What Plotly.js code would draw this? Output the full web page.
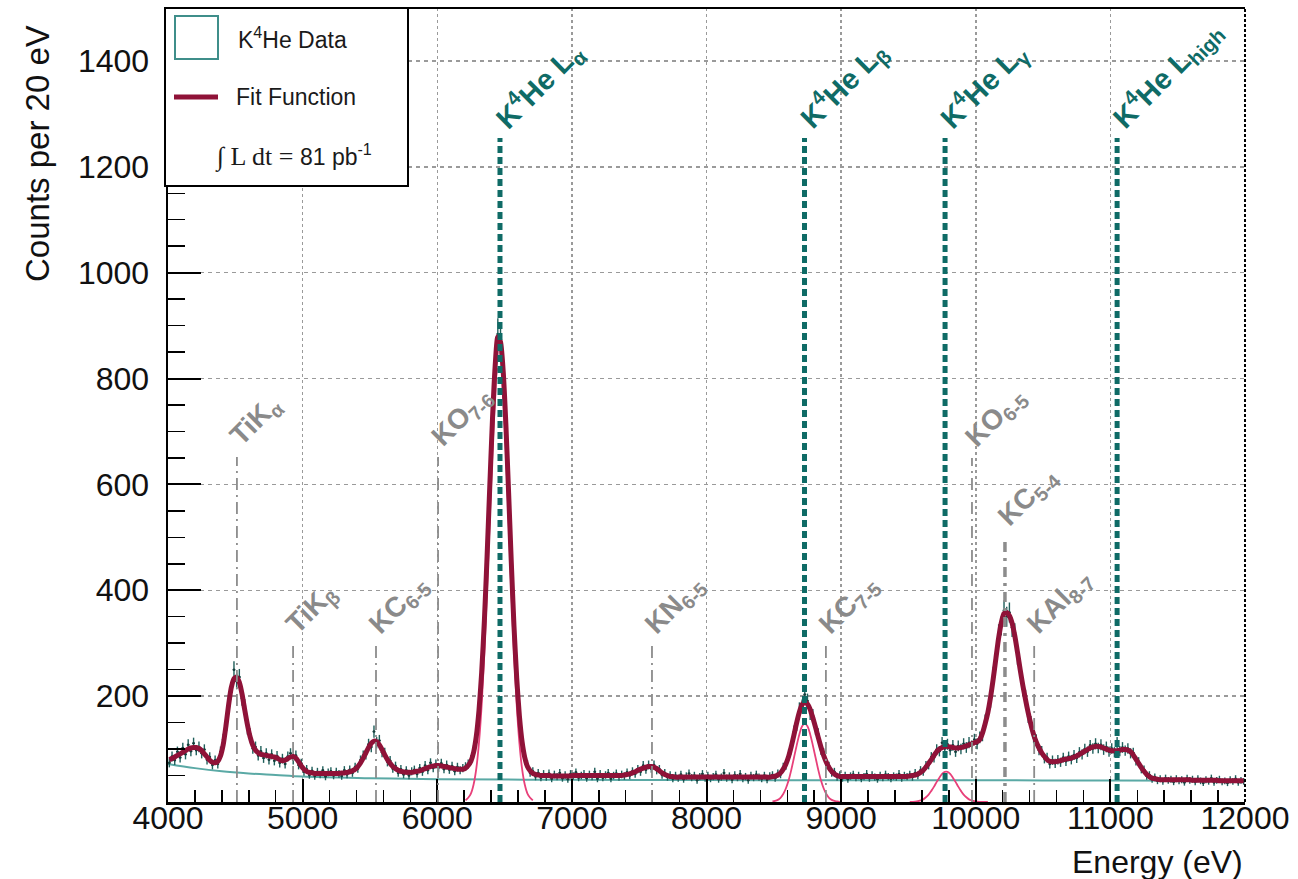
<!DOCTYPE html>
<html>
<head>
<meta charset="utf-8">
<script src="https://cdn.plot.ly/plotly-3.0.1.min.js"></script>
<style>html,body{margin:0;padding:0;background:#fff}#chart{width:1298px;height:879px}</style>
</head>
<body>
<div id="chart"></div>
<script>
// ---------------- DATA ----------------
const binStart = 4010;   // first bin centre (eV)
const binWidth = 20;     // eV per bin

const counts = [
  74, 86, 79, 95, 84, 102, 90, 108, 96, 111, 98, 104, 92, 99, 80, 85, 70, 79, 72, 95,
  118, 135, 190, 208, 250, 228, 236, 196, 181, 139, 128, 101, 104, 88, 96, 83, 92, 80, 90, 78,
  87, 74, 82, 72, 86, 92, 80, 88, 70, 73, 57, 62, 51, 59, 49, 57, 52, 60, 48, 56,
  58, 50, 57, 53, 49, 60, 52, 61, 55, 66, 63, 79, 88, 90, 109, 104, 133, 112, 116, 94,
  93, 76, 78, 63, 68, 55, 62, 52, 60, 50, 58, 61, 53, 64, 57, 69, 60, 74, 64, 72,
  65, 73, 62, 70, 61, 68, 58, 66, 60, 64, 67, 72, 80, 98, 119, 178, 240, 350, 455, 602,
  731, 815, 884, 875, 806, 720, 578, 461, 325, 241, 158, 118, 80, 71, 55, 58, 48, 55, 46, 53,
  47, 54, 44, 52, 48, 55, 45, 51, 43, 53, 49, 56, 46, 50, 53, 45, 52, 48, 57, 44,
  53, 46, 51, 55, 44, 50, 54, 47, 52, 49, 56, 50, 58, 53, 62, 57, 69, 61, 70, 63,
  70, 60, 62, 51, 55, 47, 51, 44, 50, 45, 52, 43, 49, 54, 46, 50, 41, 48, 53, 45,
  50, 44, 48, 52, 43, 47, 55, 45, 49, 42, 51, 46, 53, 44, 48, 41, 50, 46, 52, 47,
  44, 50, 42, 49, 51, 45, 54, 52, 66, 69, 91, 100, 133, 146, 175, 180, 203, 191, 168, 163,
  138, 128, 99, 92, 71, 68, 55, 57, 47, 51, 45, 50, 43, 49, 52, 46, 50, 44, 48, 53,
  45, 51, 47, 43, 50, 46, 52, 48, 44, 49, 47, 53, 45, 50, 48, 52, 47, 55, 50, 60,
  57, 69, 70, 85, 84, 99, 96, 112, 101, 109, 98, 107, 95, 106, 100, 110, 103, 112, 106, 118,
  110, 122, 126, 153, 172, 192, 240, 268, 318, 333, 362, 350, 358, 330, 320, 276, 256, 214, 198, 162,
  150, 122, 117, 98, 96, 82, 84, 72, 79, 73, 80, 75, 84, 77, 86, 80, 89, 83, 94, 90,
  100, 95, 107, 101, 110, 102, 108, 99, 104, 95, 101, 94, 112, 96, 103, 97, 101, 92, 93, 78,
  76, 62, 61, 49, 51, 43, 47, 40, 44, 39, 45, 41, 43, 38, 44, 40, 42, 37, 45, 41,
  43, 38, 44, 40, 36, 42, 39, 45, 37, 41, 43, 38, 40, 36, 42, 39, 44, 37, 41, 39
];

const fitValues = [
  80, 82, 85, 88, 91, 94, 97, 100, 102, 103, 103, 101, 97, 91, 85, 79, 75, 74, 77, 87,
  108, 143, 183, 216, 233, 236, 226, 204, 174, 146, 123, 107, 98, 93, 90, 89, 88, 87, 86, 85,
  83, 80, 78, 79, 82, 85, 86, 83, 76, 68, 62, 58, 56, 55, 54, 54, 54, 54, 54, 54,
  54, 54, 54, 54, 55, 55, 56, 57, 59, 62, 67, 74, 83, 93, 103, 111, 115, 114, 108, 99,
  89, 80, 73, 67, 63, 60, 58, 57, 56, 56, 56, 57, 58, 59, 61, 63, 65, 67, 68, 69,
  69, 68, 67, 66, 65, 64, 63, 62, 62, 62, 64, 69, 77, 94, 124, 173, 245, 342, 463, 595,
  722, 823, 879, 869, 813, 712, 585, 453, 332, 235, 163, 114, 84, 67, 59, 54, 52, 51, 50, 50,
  50, 50, 49, 49, 49, 49, 49, 49, 49, 49, 50, 50, 50, 50, 50, 50, 50, 50, 50, 50,
  50, 50, 50, 50, 50, 50, 50, 50, 50, 51, 52, 53, 55, 57, 60, 62, 64, 66, 67, 67,
  66, 63, 59, 55, 52, 50, 48, 48, 47, 47, 47, 47, 47, 47, 47, 47, 47, 47, 47, 47,
  47, 47, 47, 47, 47, 47, 47, 47, 47, 47, 47, 47, 47, 47, 47, 47, 47, 47, 47, 47,
  47, 47, 47, 47, 48, 49, 51, 55, 62, 72, 86, 105, 127, 150, 170, 184, 189, 185, 175, 159,
  141, 122, 104, 88, 75, 65, 58, 53, 50, 48, 48, 48, 48, 48, 48, 48, 48, 48, 48, 48,
  48, 48, 48, 48, 48, 48, 48, 48, 48, 48, 48, 48, 48, 48, 48, 49, 50, 51, 53, 56,
  60, 66, 73, 80, 88, 95, 100, 103, 105, 105, 104, 103, 102, 102, 103, 104, 106, 108, 110, 112,
  114, 118, 130, 148, 169, 198, 233, 272, 310, 339, 356, 358, 352, 338, 314, 283, 250, 220, 193, 168,
  146, 127, 113, 102, 93, 86, 80, 77, 76, 76, 77, 78, 80, 81, 82, 83, 85, 87, 90, 93,
  96, 99, 102, 104, 105, 105, 104, 102, 100, 98, 97, 97, 97, 98, 99, 99, 98, 95, 89, 81,
  73, 65, 58, 52, 48, 45, 44, 43, 42, 42, 42, 42, 42, 42, 42, 42, 42, 42, 42, 42,
  41, 41, 41, 41, 41, 41, 41, 41, 41, 41, 40, 40, 40, 40, 40, 40, 40, 40, 40, 40
];

// background component of the fit
const bgEnergy = [4000, 4200, 4400, 4600, 4800, 5000, 5500, 6000, 7000, 8000, 9000, 10000, 11000, 12000];
const bgValues = [72, 64, 58, 54, 51, 48, 45, 43, 42, 41.5, 41, 41, 40.5, 40];

// K4He L-line Gaussian components (pink)
const laStart = 6210;
const laValues = [3, 8, 16, 33, 63, 112, 184, 281, 402, 534, 661, 762, 818, 818, 762, 661, 534, 402, 281, 184, 112, 63, 33, 16, 8, 3];
const lbStart = 8490;
const lbValues = [1, 2, 4, 8, 15, 26, 41, 61, 84, 107, 128, 143, 148, 143, 128, 107, 84, 61, 41, 26, 15, 8, 4, 2, 1, 0];
const lgStart = 9510;
const lgValues = [0, 0.3, 0.7, 1.5, 3, 5, 9, 14, 21, 29, 38, 46, 53, 57, 57, 53, 46, 38, 29, 21, 14, 9, 5, 3, 1.5, 0.7, 0.3, 0, 0, 0];

// line labels
const kheLabels = ['K<sup>4</sup>He L<sub>α</sub>', 'K<sup>4</sup>He L<sub>β</sub>', 'K<sup>4</sup>He L<sub>γ</sub>', 'K<sup>4</sup>He L<sub>high</sub>'];
const kheEnergies = [6466, 8728, 9772, 11050];
const otherLabels = ['TiK<sub>α</sub>', 'TiK<sub>β</sub>', 'KC<sub>6-5</sub>', 'KO<sub>7-6</sub>', 'KN<sub>6-5</sub>', 'KC<sub>7-5</sub>', 'KO<sub>6-5</sub>', 'KC<sub>5-4</sub>', 'KAl<sub>8-7</sub>'];
const otherEnergies = [4512, 4929, 5545, 6006, 7595, 8887, 9972, 10217, 10434];

const xTickVals = [4000, 5000, 6000, 7000, 8000, 9000, 10000, 11000, 12000];
const yTickVals = [200, 400, 600, 800, 1000, 1200, 1400];

// ---------------- LAYOUT HELPERS ----------------
const W = 1298, H = 879, L = 168, R = 1245, T = 8, B = 802;
const YMAX = 1500;
const px = p => (p - L) / (R - L);
const py = p => (B - p) / (B - T);
const cy = p => (B - p) / (B - T) * YMAX;   // pixel row -> counts

const energies = counts.map((_, i) => binStart + i * binWidth);
const seq = (start, arr) => arr.map((_, i) => start + i * binWidth);

const teal = '#0f6b66';
const grey = '#8a8a8a';
const fitRed = '#8f1238';
const pink = '#e8407a';
const sans = 'Liberation Sans, Arial, sans-serif';

const traces = [
  { x: bgEnergy, y: bgValues, mode: 'lines', line: { color: '#5aa9a5', width: 2, shape: 'spline' }, hoverinfo: 'skip' },
  { x: seq(laStart, laValues), y: laValues, mode: 'lines', line: { color: pink, width: 1.8, shape: 'spline' } },
  { x: seq(lbStart, lbValues), y: lbValues, mode: 'lines', line: { color: pink, width: 1.8, shape: 'spline' } },
  { x: seq(lgStart, lgValues), y: lgValues, mode: 'lines', line: { color: pink, width: 1.8, shape: 'spline' } },
  { x: energies, y: counts, mode: 'markers', name: 'K4He Data',
    marker: { color: '#173c3a', size: 2.5 },
    error_y: { type: 'data', array: counts.map(v => Math.sqrt(v)), color: '#1f5f5b', thickness: 1.4, width: 0 },
    error_x: { type: 'constant', value: binWidth / 2, color: '#1f5f5b', thickness: 1.4, width: 0 } },
  { x: energies, y: fitValues, mode: 'lines', name: 'Fit Function', line: { color: fitRed, width: 5, shape: 'spline', smoothing: 0.6 } }
];

const shapes = [];
const annotations = [];

// grey dash-dot lines + labels
const otherTops = [457, 645, 645, 457, 645, 645, 458, 537, 645];
otherEnergies.forEach((e, i) => {
  const thick = otherLabels[i].startsWith('KC<sub>5-4');
  shapes.push({ type: 'line', xref: 'x', yref: 'y', x0: e, x1: e, y0: 0, y1: cy(otherTops[i]),
    line: { color: '#8c8c8c', width: thick ? 3.5 : 1.8, dash: thick ? '10px,6px,3px,6px' : '12px,5px,2px,5px' }, layer: 'above' });
  annotations.push({ xref: 'x', yref: 'y', x: e, y: cy(otherTops[i]), xanchor: 'left', yanchor: 'bottom',
    xshift: -16, yshift: 0, textangle: -45, showarrow: false, text: otherLabels[i],
    font: { family: sans, size: 28, color: grey, weight: 'bold' } });
});

// teal K4He lines + labels
kheEnergies.forEach((e, i) => {
  shapes.push({ type: 'line', xref: 'x', yref: 'y', x0: e, x1: e, y0: 0, y1: cy(138),
    line: { color: teal, width: 5, dash: '7px,4px' }, layer: 'above' });
  annotations.push({ xref: 'x', yref: 'y', x: e, y: cy(138), xanchor: 'left', yanchor: 'bottom',
    xshift: -16, yshift: -2, textangle: -45, showarrow: false, text: kheLabels[i],
    font: { family: sans, size: 29, color: teal, weight: 'bold' } });
});

// frame: top solid, right dashed
shapes.push({ type: 'line', xref: 'paper', yref: 'paper', x0: 0, x1: 1, y0: 1, y1: 1, line: { color: '#000', width: 2 }, layer: 'above' });
shapes.push({ type: 'line', xref: 'paper', yref: 'paper', x0: 1, x1: 1, y0: 0, y1: 1, line: { color: '#000', width: 2, dash: '3px,2px' }, layer: 'above' });

// legend box
shapes.push({ type: 'rect', xref: 'paper', yref: 'paper', x0: px(165), x1: px(408), y0: py(186), y1: py(8),
  fillcolor: '#fff', line: { color: '#000', width: 2 }, layer: 'above' });
shapes.push({ type: 'rect', xref: 'paper', yref: 'paper', x0: px(175), x1: px(218), y0: py(59), y1: py(16),
  fillcolor: 'rgba(0,0,0,0)', line: { color: '#3f8e8a', width: 2 }, layer: 'above' });
shapes.push({ type: 'line', xref: 'paper', yref: 'paper', x0: px(174), x1: px(218), y0: py(97), y1: py(97),
  line: { color: fitRed, width: 5 }, layer: 'above' });
const legFont = { family: sans, size: 23, color: '#1a1a1a' };
annotations.push({ xref: 'paper', yref: 'paper', x: px(236), y: py(38), xanchor: 'left', yanchor: 'middle', showarrow: false,
  text: 'K<sup>4</sup>He Data', font: legFont });
annotations.push({ xref: 'paper', yref: 'paper', x: px(234), y: py(97), xanchor: 'left', yanchor: 'middle', showarrow: false,
  text: 'Fit Function', font: legFont });
annotations.push({ xref: 'paper', yref: 'paper', x: px(213), y: py(156), xanchor: 'left', yanchor: 'middle', showarrow: false,
  text: '<span style="font-family:Liberation Serif, serif;font-size:26px">∫ L dt = </span>81 pb<sup>-1</sup>', font: { family: sans, size: 23, color: '#1a1a1a' } });

// axis titles
annotations.push({ xref: 'paper', yref: 'paper', x: 1, y: py(862), xanchor: 'right', yanchor: 'middle', showarrow: false,
  text: 'Energy (eV)', font: { family: sans, size: 32, color: '#111' } });
annotations.push({ xref: 'paper', yref: 'paper', x: px(37), y: py(154), xanchor: 'center', yanchor: 'middle', showarrow: false,
  textangle: -90, text: 'Counts per 20 eV', font: { family: sans, size: 33, color: '#111' } });

const tickFont = { family: sans, size: 32, color: '#111' };

const layout = {
  width: W, height: H,
  margin: { l: L, r: W - R, t: T, b: H - B, pad: 0 },
  paper_bgcolor: '#fff', plot_bgcolor: '#fff',
  showlegend: false,
  xaxis: {
    range: [4000, 12000], tickmode: 'array', tickvals: xTickVals, ticktext: xTickVals.map(String),
    tickfont: tickFont, ticks: 'inside', ticklen: 23, tickwidth: 2, tickcolor: '#000',
    showline: true, linecolor: '#000', linewidth: 2.5, zeroline: false,
    showgrid: true, gridcolor: '#9a9a9a', gridwidth: 1.5, griddash: 'dot',
    minor: { tickmode: 'linear', tick0: 4000, dtick: 200, ticks: 'inside', ticklen: 12, tickwidth: 1.5, tickcolor: '#000', showgrid: false },
    ticklabelstandoff: -14
  },
  yaxis: {
    range: [0, YMAX], tickmode: 'array', tickvals: yTickVals, ticktext: yTickVals.map(String),
    tickfont: tickFont, ticks: 'inside', ticklen: 33, tickwidth: 2, tickcolor: '#000',
    showline: true, linecolor: '#000', linewidth: 2.5, zeroline: false,
    showgrid: true, gridcolor: '#9a9a9a', gridwidth: 1.5, griddash: '4px,4px',
    minor: { tickmode: 'linear', tick0: 0, dtick: 50, ticks: 'inside', ticklen: 17, tickwidth: 1.5, tickcolor: '#000', showgrid: false },
    ticklabelstandoff: 10
  },
  shapes: shapes,
  annotations: annotations
};

Plotly.newPlot('chart', traces, layout, { displayModeBar: false, staticPlot: true });
</script>
</body>
</html>
